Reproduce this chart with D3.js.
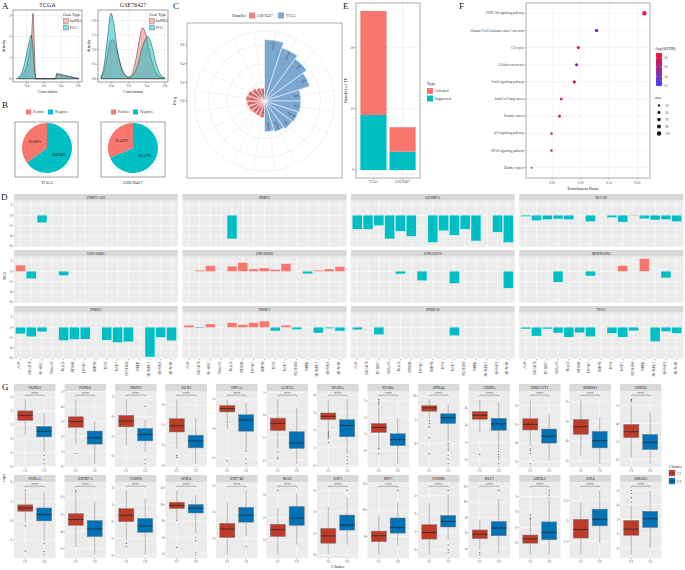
<!DOCTYPE html>
<html><head><meta charset="utf-8">
<script src="https://cdn.jsdelivr.net/npm/d3@7"></script>
<style>html,body{margin:0;padding:0;background:#fff;}svg{display:block;}</style>
</head><body>
<svg id="fig" width="685" height="570"></svg>
<script>
// ===================== DATA =====================
// A: density curves, [correlation, density]
const tcgaLnc = [[-0.58,0],[-0.5,0.15],[-0.42,0.45],[-0.36,0.9],[-0.31,1.5],[-0.28,2.1],[-0.25,3.1],[-0.22,1.6],[-0.2,0.3],[-0.18,0],[0.27,0],[0.3,0.26],[0.34,0.24],[0.45,0.18],[0.6,0.1],[0.72,0.04],[0.81,0]];
const tcgaPcg = [[-0.64,0],[-0.57,0.1],[-0.5,0.35],[-0.43,0.85],[-0.37,1.45],[-0.32,1.9],[-0.29,2.07],[-0.26,1.7],[-0.22,0.6],[-0.19,0.05],[-0.17,0],[0.27,0],[0.3,0.2],[0.34,0.19],[0.45,0.15],[0.6,0.1],[0.72,0.04],[0.81,0]];
const gseLnc = [[-0.62,0.05],[-0.55,0.3],[-0.48,0.8],[-0.42,1.25],[-0.36,1.35],[-0.3,1.15],[-0.22,0.65],[-0.12,0.2],[0,0.05],[0.08,0.2],[0.16,0.7],[0.24,1.4],[0.31,1.75],[0.38,1.5],[0.46,0.9],[0.56,0.35],[0.66,0.1],[0.8,0.02]];
const gsePcg = [[-0.62,0.05],[-0.55,0.5],[-0.48,1.4],[-0.4,2.25],[-0.34,1.9],[-0.27,1.1],[-0.18,0.45],[-0.08,0.12],[0,0.05],[0.1,0.15],[0.2,0.5],[0.3,1.1],[0.42,1.45],[0.5,1.2],[0.6,0.55],[0.7,0.15],[0.8,0.02]];
const corrTicks = [-0.4, 0, 0.4, 0.8];
const tcgaDensTicks = [0, 1, 2, 3];
const gseDensTicks = [0, 0.5, 1, 1.5, 2];

// B: pies
const pieSets = ["TCGA", "GSE76427"];
const piePositive = [35.06, 31.43];
const pieNegative = [64.94, 68.57];

// C: polar bar
const cGenes = ["MYBL2","FOXM1","E2F1","E2F4","MYC","KLF1","ZNF740","MAZ","SMAD3","GRHL2",
                "FOXO3","FOXO1","NR2F2","DLX3","HIF1A","GATA2","PPARA","PPARG","CEBPA","ONECUT1"];
const cSet = ["TCGA","TCGA","TCGA","TCGA","TCGA","TCGA","TCGA","TCGA","TCGA","TCGA",
              "GSE76427","GSE76427","GSE76427","GSE76427","GSE76427","GSE76427","GSE76427","GSE76427","GSE76427","GSE76427"];
const cFreq = [0.66,0.6,0.56,0.51,0.39,0.39,0.38,0.37,0.35,0.33,
               0.18,0.17,0.17,0.18,0.19,0.2,0.19,0.17,0.15,0.14];
const cTicks = [0, 0.2, 0.4, 0.6];

// E: stacked bars
const eSets = ["TCGA", "GSE76427"];
const eActivated = [17, 4];
const eSuppressed = [9, 3];
const eTicks = [0, 10, 20];

// F: KEGG dot plot
const fPath = ["PI3K-Akt signaling pathway","Human T-cell leukemia virus 1 infection","Cell cycle","Cellular senescence","FoxO signaling pathway","Small cell lung cancer","Prostate cancer","p53 signaling pathway","PPAR signaling pathway","Bladder cancer"];
const fRatio = [0.212,0.128,0.096,0.093,0.089,0.066,0.063,0.049,0.049,0.014];
const fLogFDR = [17.8,14.3,18.6,14.6,17.0,17.3,16.0,17.2,17.0,12.2];
const fSize = [110,75,60,60,55,45,45,35,35,20];
const fTicks = [0.05,0.10,0.15,0.20];
const fColorTicks = [18,16,14,12];
const fSizeTicks = [30,50,70,90,110];

// D: RCI facets
const dCells = ["A549","GM12878","H1-hESC","HeLa-S3","HepG2","HT1080","HUVEC","IMR-90","K562","MCF-7","NCI-H460","NHEK","SK-MEL-5","SK-N-DZ","SK-N-SH"];
const dGenes = ["ZNRF3-AS1","ZNRF3","GUSBP11","RCC1B","LINC00491","LINC00926","LINC01070","MIR99AHG","SNHG1","SNHG7","SNHG16","TUG1"];
const dRCI = [
 [null,null,-1.4,null,null,null,null,null,null,null,null,null,null,null,null],
 [null,null,null,null,-4.6,null,null,null,null,null,null,null,null,null,null],
 [-2.7,-2.7,-2.0,-4.6,-3.1,-4.1,null,-5.3,-3.0,-3.9,-2.7,-5.0,null,-3.3,-5.3],
 [-0.2,-1.0,-0.8,-0.7,-0.8,null,-1.2,null,-0.4,-1.3,0.1,-0.65,-0.9,-0.8,-1.2],
 [1.2,-1.4,null,null,-0.8,null,null,null,null,null,null,null,null,null,null],
 [null,0.2,1.1,null,1.0,1.7,0.45,0.65,0.35,1.5,null,-0.45,0.2,0.45,0.9],
 [null,null,null,null,-0.5,null,-1.8,null,null,-2.35,null,null,null,null,-3.3],
 [null,null,null,-2.1,null,null,-0.9,null,null,1.1,null,2.5,null,-1.25,null],
 [-1.25,-1.8,-0.85,null,-2.55,-2.35,-2.3,null,-2.5,-2.95,-2.8,null,-5.8,-1.95,-2.6],
 [0.4,-0.13,0.65,null,0.9,0.5,0.9,1.2,-0.7,0.4,-0.4,null,-1.1,-0.2,-0.7],
 [-0.45,null,-1.4,null,null,null,null,null,null,-1.6,null,null,null,null,null],
 [-0.3,-1.7,-0.3,-1.1,-1.9,-1.05,-1.8,null,-1.15,-1.9,-0.65,null,-2.75,-0.8,-1.15]
];
const dTicks = [-6,-4,-2,0,2];

// G: boxplots [lower whisker, Q1, median, Q3, upper whisker]
const gGenes = ["FOXO3","FOXO1","NR2F2","DLX3","HIF1A","GATA2","PPARA","PPARG","RNF44","CEBPA","ONECUT1","ROBSS1","CREB3",
                "FOXA1","ZBTB7A","CEBPB","RNF4","ZNF740","MAZ","E2F1","MYC","FOXM1","KLF1","GRHL2","E2F4","SMAD3"];
const gC1 = [[0.3,1.33,1.7,2.02,2.85],[1.46,2.62,3.0,3.32,4.48],[-1.44,-0.52,-0.23,0.06,0.87],[-2.21,-1.34,-1.03,-0.68,0.28],[1.16,2.8,3.37,3.9,4.94],[-1.47,-0.68,-0.36,-0.13,0.7],[1.44,2.6,2.79,2.98,3.75],[0.2,1.1,1.4,1.64,2.7],[5.2,6.8,7.5,7.96,9.3],[3.13,4.68,5.14,5.58,7.0],[-4.17,-3.3,-3.0,-2.7,-1.67],[-4.74,-3.65,-3.26,-2.89,-1.87],[-5.9,-4.79,-4.46,-4.05,-2.95],
             [-0.08,0.5,0.67,0.83,1.5],[-4.73,-3.64,-3.3,-2.96,-1.82],[-1.08,0,0.39,0.78,1.86],[8.27,9.5,9.88,10.27,11.7],[0.39,1.04,1.36,1.58,2.36],[0.35,1.16,1.46,1.7,2.4],[0,0.54,0.88,1.23,2.23],[6.6,7.6,8.05,8.4,9.6],[-0.27,0.6,0.96,1.4,2.6],[3.85,5.27,5.85,6.4,7.7],[-2.77,-2.02,-1.74,-1.49,-0.32],[1.17,1.58,1.79,2.04,2.46],[0.56,1.9,2.33,2.93,4.0]];
const gC2 = [[-0.95,0.14,0.55,0.9,1.86],[0.19,1.5,1.92,2.37,3.04],[-1.8,-1.23,-0.91,-0.6,-0.18],[-2.92,-2.13,-1.78,-1.5,-0.63],[-3.5,-0.47,1.45,2.33,4.36],[-2.15,-1.47,-1.23,-0.73,0.32],[0.67,1.63,2.27,2.6,3.75],[-0.8,0.3,0.66,1.02,2.0],[0.5,4.2,5.4,6.26,8.3],[1.08,3.4,4.14,4.8,6.65],[-4.92,-4.0,-3.63,-3.25,-2.47],[-5.15,-4.34,-3.98,-3.5,-2.8],[-6.25,-5.46,-5.05,-4.61,-3.39],
             [-1.08,0,0.33,0.67,1.5],[-5.36,-4.3,-3.85,-3.36,-2.27],[-1.96,-0.63,-0.25,0.2,1.37],[6.5,8.96,9.54,10,11.15],[1.1,1.62,1.88,2.18,2.82],[0.8,1.65,1.97,2.49,3.07],[0.46,1.15,1.38,1.85,2.69],[7.3,8.25,8.66,9.4,10.6],[0.55,1.27,1.58,1.91,3.1],[3.27,5.65,6.65,7.5,10.4],[-2.77,-1.8,-1.32,-0.64,0.96],[1.46,1.88,2.04,2.29,2.75],[1.0,2.44,3.04,3.56,5.0]];
const gOut1 = [[],[0.87],[],[-2.5,-2.6],[1.05,0.58,0.12,-5.5],[-1.63,-1.86,-1.94],[1.9,1.8,1.7,1.6,1.3],[2.8,2.9,3.0,3.1,0.1,-0.2],[4.8,4.2,3.5,1.2,-2.2],[0.6],[-4.3,-4.4,-4.55,-5.1],[],[-2.8,-2.7,-2.65],
               [1.58,-0.25,-1.55],[-1.7,-1.6,-4.8],[-1.27,-1.47],[8.1,4.8],[],[3.2],[],[],[],[3.5,3.2],[-0.2,-0.43],[],[4.2,4.5,4.8,5.0]];
const gOut2 = [[-1.2,-1.5,-1.8],[],[0.52,-2.16,-2.39],[],[-3.8,-5.2,-6.0],[],[0.5,0.3,0.1],[],[0,-0.5,-1,-1.5,-2.5,-3.3,-4.3],[0.9,0.6,0.3,0,-0.5],[],[],[],
               [-1.17,-1.58,-1.75],[],[],[6,5.6,4.2,3.9],[0.71],[],[3.0],[11.5],[3.3,0.27,0,-0.13],[11.5],[1.1,1.25,1.4],[],[]];
const gClusters = ["C1","C2"];

// ===================== DRAW =====================
const svg = d3.select("#fig").style("font-family","'Liberation Serif','Times New Roman',serif");
const PINK="#F8766D", CYAN="#00BFC4", RED1="#BC3C29", BLUE2="#0072B5";
function T(x,y,s,fs,o={}){
  const t=svg.append("text").attr("x",x).attr("y",y).text(s).attr("font-size",fs)
    .attr("fill",o.fill||"#222").attr("text-anchor",o.a||"start");
  if(o.rot!==undefined) t.attr("transform",`rotate(${o.rot},${x},${y})`);
  return t;
}
function L(x1,y1,x2,y2,c,w){svg.append("line").attr("x1",x1).attr("y1",y1).attr("x2",x2).attr("y2",y2).attr("stroke",c).attr("stroke-width",w);}
function R(x,y,w,h,f,s,sw){return svg.append("rect").attr("x",x).attr("y",y).attr("width",w).attr("height",h).attr("fill",f||"none").attr("stroke",s||"none").attr("stroke-width",sw||0);}

// panel letters
[["A",2,9],["B",2,108],["C",173,9],["E",343,9],["F",459,9],["D",1,200],["G",2,390]].forEach(d=>T(d[1],d[2],d[0],9,{fill:"#111"}));

// ---------- A ----------
function densityPanel(box, curves, yTicks, yFmt, title){
  const [x0,y0,x1,y1]=box;
  const ax=curves.flatMap(c=>c.data.map(d=>d[0]));
  const xmin=d3.min(ax), xmax=d3.max(ax), xr=xmax-xmin;
  const x=d3.scaleLinear().domain([xmin-0.05*xr,xmax+0.05*xr]).range([x0,x1]);
  const ym=d3.max(curves.flatMap(c=>c.data.map(d=>d[1])));
  const y=d3.scaleLinear().domain([-0.05*ym,1.05*ym]).range([y1,y0]);
  R(x0,y0,x1-x0,y1-y0,"#fff");
  const yStep=yTicks[1]-yTicks[0];
  yTicks.forEach(t=>{ const m=t+yStep/2; if(y(m)>y0) L(x0,y(m),x1,y(m),"#F2F2F2",0.3); L(x0,y(t),x1,y(t),"#E5E5E5",0.5);
    L(x0-1.5,y(t),x0,y(t),"#333",0.4); T(x0-2,y(t)+1.2,yFmt(t),3.4,{a:"end",fill:"#444"});});
  corrTicks.forEach(t=>{ const m=t+0.2; if(x(m)<x1) L(x(m),y0,x(m),y1,"#F2F2F2",0.3); L(x(t),y0,x(t),y1,"#E5E5E5",0.5);
    L(x(t),y1,x(t),y1+1.5,"#333",0.4); T(x(t),y1+4.8,d3.format(".1f")(t).replace("−","-"),3.4,{a:"middle",fill:"#444"});});
  curves.forEach(c=>{
    svg.append("path").datum(c.data).attr("d",d3.area().x(d=>x(d[0])).y0(y(0)).y1(d=>y(d[1])).curve(d3.curveMonotoneX))
      .attr("fill",c.color).attr("fill-opacity",0.5).attr("stroke","#222").attr("stroke-width",0.45);
  });
  R(x0,y0,x1-x0,y1-y0,"none","#444",0.5);
  T((x0+x1)/2,7,title,6,{a:"middle"});
  T((x0+x1)/2,92.5,"Correlation",4.4,{a:"middle"});
  T(x0-8,(y0+y1)/2,"density",4.4,{a:"middle",rot:-90});
  // legend
  const lx=x1-19;
  T(lx,16,"Gene Type",4,{});
  [["lncRNA",PINK],["PCG",CYAN]].forEach((d,i)=>{
    R(lx+0.5,18.5+i*6.5,5,5,d[1],"#333",0.3).attr("fill-opacity",0.5);
    T(lx+7,22.3+i*6.5,d[0],3.5,{});
  });
}
densityPanel([13,10,82,82],[{data:tcgaLnc,color:PINK},{data:tcgaPcg,color:CYAN}],tcgaDensTicks,d3.format("d"),"TCGA");
densityPanel([98,10,168,82],[{data:gseLnc,color:PINK},{data:gsePcg,color:CYAN}],gseDensTicks,d3.format(".1f"),"GSE76427");

// ---------- B ----------
pieSets.forEach((name,k)=>{
  const cx=[47,133][k], cy=148, bx=[15,101][k], r=25;
  const lx=[26,111][k];
  R(lx,109.5,5,5,PINK); T(lx+7,113.4,"Positive",3.6,{fill:"#333"});
  R(lx+22,109.5,5,5,CYAN); T(lx+29,113.4,"Negative",3.6,{fill:"#333"});
  R(bx,122,[63,64][k],55,"#fff","#8c8c8c",0.8);
  svg.append("circle").attr("cx",cx).attr("cy",cy).attr("r",27.5).attr("fill","none").attr("stroke","#EDEDED").attr("stroke-width",0.5);
  const vals=[{v:pieNegative[k],c:CYAN},{v:piePositive[k],c:PINK}];
  const arcs=d3.pie().sort(null).value(d=>d.v)(vals);
  const arc=d3.arc().innerRadius(0).outerRadius(r);
  const lab=d3.arc().innerRadius(r*0.55).outerRadius(r*0.55);
  const g=svg.append("g").attr("transform",`translate(${cx},${cy})`);
  g.selectAll("path").data(arcs).join("path").attr("d",arc).attr("fill",d=>d.data.c);
  g.selectAll("text").data(arcs).join("text").attr("transform",d=>`translate(${lab.centroid(d)})`).attr("dy",1.4)
    .attr("text-anchor","middle").attr("font-size",4.2).attr("fill","#111").text(d=>d3.format(".2f")(d.data.v)+"%");
  T(cx,184,name,4.4,{a:"middle"});
});

// ---------- C ----------
(function(){
  const cx=264.5, cy=101;
  const rS=d3.scaleLinear().domain([0,0.6]).range([0,56]);
  const n=cGenes.length, step=2*Math.PI/n;
  T(232,16.5,"DataSet",4.4,{});
  R(249,12.5,6,6,"#F08080"); T(257,17.2,"GSE76427",3.6,{fill:"#333"});
  R(278,12.5,6,6,"#7BA7D2"); T(286,17.2,"TCGA",3.6,{fill:"#333"});
  R(187,23,155,155,"#fff","#9a9a9a",0.8);
  [0.2,0.4,0.6,0.75].forEach(v=>svg.append("circle").attr("cx",cx).attr("cy",cy).attr("r",rS(v)).attr("fill","none").attr("stroke","#E6E6E6").attr("stroke-width",0.6));
  for(let i=0;i<n;i++){const a=(i+0.5)*step; L(cx,cy,cx+rS(0.75)*Math.sin(a),cy-rS(0.75)*Math.cos(a),"#E6E6E6",0.5);}
  const arc=d3.arc().innerRadius(0);
  const g=svg.append("g").attr("transform",`translate(${cx},${cy})`);
  cFreq.forEach((v,i)=>{
    g.append("path").attr("d",arc({outerRadius:rS(v),startAngle:i*step,endAngle:(i+1)*step}))
      .attr("fill",cSet[i]==="TCGA"?"#7BA7D2":"#F08080").attr("stroke","#fff").attr("stroke-width",0.5);
  });
  cFreq.forEach((v,i)=>{
    const a=(i+0.5)*step, rr=rS(v)-0.8, s=Math.sin(a);
    const deg=a*180/Math.PI;
    const right=deg<180;
    const tx=rr*s, ty=-rr*Math.cos(a);
    const rot=right?deg-90:deg+90;
    g.append("text").attr("x",tx).attr("y",ty).attr("dy",0.9).attr("font-size",2.6).attr("fill","#333")
      .attr("text-anchor",right?"end":"start")
      .attr("transform",`rotate(${rot},${tx},${ty})`).text(cGenes[i]);
  });
  cTicks.forEach(t=>{L(185,cy-rS(t),187,cy-rS(t),"#333",0.4); T(184.5,cy-rS(t)+1.2,d3.format(".1f")(t),3.4,{a:"end",fill:"#444"});});
  T(176,cy,"Freq",4.4,{a:"middle",rot:-90});
})();

// ---------- E ----------
(function(){
  const x0=356,x1=420,y0=3,y1=178;
  const tot=eActivated.map((v,i)=>v+eSuppressed[i]);
  const mx=d3.max(tot);
  const y=d3.scaleLinear().domain([-0.05*mx,1.05*mx]).range([y1,y0]);
  const x=d3.scaleLinear().domain([-0.6,eSets.length-0.4]).range([x0,x1]);
  R(x0,y0,x1-x0,y1-y0,"#fff");
  [5,15,25].forEach(t=>L(x0,y(t),x1,y(t),"#F2F2F2",0.3));
  eTicks.forEach(t=>{L(x0,y(t),x1,y(t),"#E5E5E5",0.5); L(x0-1.5,y(t),x0,y(t),"#333",0.4); T(x0-2,y(t)+1.2,t,3.4,{a:"end",fill:"#444"});});
  eSets.forEach((s,i)=>{L(x(i),y0,x(i),y1,"#E5E5E5",0.5);
    R(x(i)-0.45*(x(1)-x(0)),y(eSuppressed[i]),0.9*(x(1)-x(0)),y(0)-y(eSuppressed[i]),CYAN);
    R(x(i)-0.45*(x(1)-x(0)),y(tot[i]),0.9*(x(1)-x(0)),y(eSuppressed[i])-y(tot[i]),PINK);
    L(x(i),y1,x(i),y1+1.5,"#333",0.4); T(x(i),y1+5,s,3.4,{a:"middle",fill:"#444"});});
  R(x0,y0,x1-x0,y1-y0,"none","#9a9a9a",0.8);
  T(347,(y0+y1)/2,"Number of TF",4.4,{a:"middle",rot:-90});
  T(427,85,"Type",4.4,{});
  R(427,88,6,6,PINK); T(435,92.4,"Activated",3.5,{fill:"#333"});
  R(427,95.5,6,6,CYAN); T(435,99.9,"Suppressed",3.5,{fill:"#333"});
})();

// ---------- F ----------
(function(){
  const x0=526,x1=650,y0=3,y1=178;
  const mn=d3.min(fRatio), mxv=d3.max(fRatio), rg=mxv-mn;
  const x=d3.scaleLinear().domain([mn-0.05*rg,mxv+0.05*rg]).range([x0,x1]);
  const y=d3.scaleLinear().domain([-0.6,fPath.length-0.4]).range([y0,y1]);
  const col=d3.scaleLinear().domain([12,19]).range(["#4343FF","#FF1030"]);
  const sz=d3.scaleSqrt().domain([0,110]).range([0,2.2]);
  R(x0,y0,x1-x0,y1-y0,"#fff");
  fTicks.forEach(t=>{L(x(t),y0,x(t),y1,"#E8E8E8",0.5); L(x(t),y1,x(t),y1+1.5,"#333",0.4); T(x(t),y1+5.5,d3.format(".2f")(t),3.4,{a:"middle",fill:"#444"});});
  fPath.forEach((p,i)=>{L(x0,y(i),x1,y(i),"#E8E8E8",0.5); L(x0-1.5,y(i),x0,y(i),"#333",0.4); T(x0-2,y(i)+1.1,p,3.3,{a:"end",fill:"#444"});});
  fPath.forEach((p,i)=>svg.append("circle").attr("cx",x(fRatio[i])).attr("cy",y(i)).attr("r",sz(fSize[i])).attr("fill",col(fLogFDR[i])));
  R(x0,y0,x1-x0,y1-y0,"none","#9a9a9a",0.8);
  T(583,189.5,"Enrichment Ratio",4.4,{a:"middle"});
  T(655,50,"-log10(FDR)",4,{});
  const gid="gradF";
  const grad=svg.append("defs").append("linearGradient").attr("id",gid).attr("x1",0).attr("x2",0).attr("y1",1).attr("y2",0);
  d3.range(0,1.01,0.1).forEach(t=>grad.append("stop").attr("offset",t).attr("stop-color",col(12+t*7)));
  const gy=d3.scaleLinear().domain([12,19]).range([86,53]);
  R(656,53,6,33,`url(#${gid})`);
  fColorTicks.forEach(t=>{L(656,gy(t),657.3,gy(t),"#fff",0.4);L(660.7,gy(t),662,gy(t),"#fff",0.4); T(664,gy(t)+1.2,t,3.4,{fill:"#444"});});
  T(655,99,"size",4,{});
  fSizeTicks.forEach((s,i)=>{svg.append("circle").attr("cx",659).attr("cy",105.5+i*7).attr("r",sz(s)).attr("fill","#111");
    T(665,106.7+i*7,s,3.4,{fill:"#444"});});
})();

// ---------- D ----------
(function(){
  const all=dRCI.flat().filter(v=>v!==null);
  const mn=d3.min(all), mx=d3.max(all), rg=mx-mn;
  const dom=[mn-0.05*rg,mx+0.05*rg];
  dGenes.forEach((gene,k)=>{
    const col=k%4,row=Math.floor(k/4);
    const px=14+col*168.4, pw=164, st=194+row*56, py=st+6.5, ph=46.5;
    const x=d3.scaleLinear().domain([-0.6,dCells.length-0.4]).range([px,px+pw]);
    const y=d3.scaleLinear().domain(dom).range([py+ph,py]);
    R(px,py,pw,ph,"#EBEBEB");
    [-5,-3,-1,1].forEach(t=>L(px,y(t),px+pw,y(t),"#F7F7F7",0.3));
    dTicks.forEach(t=>L(px,y(t),px+pw,y(t),"#fff",0.55));
    dCells.forEach((c,i)=>L(x(i),py,x(i),py+ph,"#fff",0.55));
    R(px,st,pw,6.5,"#D9D9D9");
    T(px+pw/2,st+4.6,gene,3.6,{a:"middle",fill:"#222"});
    dRCI[k].forEach((v,i)=>{ if(v===null) return;
      const bw=x(0.45)-x(-0.45);
      R(x(i)-bw/2,y(Math.max(v,0)),bw,Math.abs(y(v)-y(0)),v>=0?PINK:CYAN,"#fff",0.15);
    });
    if(col===0) dTicks.forEach(t=>{L(px-1.3,y(t),px,y(t),"#333",0.4); T(px-2,y(t)+1.2,t,3.4,{a:"end",fill:"#444"});});
    if(row===2) dCells.forEach((c,i)=>{L(x(i),py+ph,x(i),py+ph+1.3,"#333",0.4); T(x(i),py+ph+2.5,c,3.3,{a:"end",fill:"#444",rot:-90});});
  });
  T(6,276,"RCI",4.4,{a:"middle",rot:-90});
})();

// ---------- G ----------
(function(){
  gGenes.forEach((gene,k)=>{
    const row=Math.floor(k/13), col=k%13;
    const px=14+col*50.5, pw=41.5, st=row?475:384, py=st+7, ph=76;
    const vals=[...gC1[k],...gC2[k],...gOut1[k],...gOut2[k]];
    const lo=d3.min(vals), hi=d3.max(vals), r=hi-lo;
    const y=d3.scaleLinear().domain([lo-0.05*r,hi+0.13*r]).range([py+ph,py]);
    const x=d3.scaleLinear().domain([-0.6,1.6]).range([px,px+pw]);
    R(px,py,pw,ph,"#EBEBEB");
    const ticks=y.ticks(4); const ts=ticks[1]-ticks[0];
    ticks.forEach(t=>{const m=t+ts/2; if(y(m)>py) L(px,y(m),px+pw,y(m),"#F5F5F5",0.3);});
    if(y(ticks[0]-ts/2)<py+ph) L(px,y(ticks[0]-ts/2),px+pw,y(ticks[0]-ts/2),"#F5F5F5",0.3);
    ticks.forEach(t=>{L(px,y(t),px+pw,y(t),"#fff",0.55); L(px-1.3,y(t),px,y(t),"#333",0.4);
      T(px-1.8,y(t)+1.2,d3.format("~g")(t).replace("−","-"),3.3,{a:"end",fill:"#444"});});
    gClusters.forEach((c,i)=>{L(x(i),py,x(i),py+ph,"#fff",0.55); L(x(i),py+ph,x(i),py+ph+1.3,"#333",0.4);
      T(x(i),py+ph+4.8,c,3.4,{a:"middle",fill:"#444"});});
    R(px,st,pw,7,"#D9D9D9");
    T(px+pw/2,st+5,gene,3.8,{a:"middle",fill:"#222"});
    [[gC1[k],gOut1[k],RED1],[gC2[k],gOut2[k],BLUE2]].forEach((b,i)=>{
      const s=b[0], bw=x(0.4)-x(-0.4);
      L(x(i),y(s[0]),x(i),y(s[1]),"#7a7a7a",0.5);
      L(x(i),y(s[3]),x(i),y(s[4]),"#7a7a7a",0.5);
      R(x(i)-bw/2,y(s[3]),bw,y(s[1])-y(s[3]),b[2],"#808080",0.5);
      L(x(i)-bw/2,y(s[2]),x(i)+bw/2,y(s[2]),"#2a2a2a",0.8);
      b[1].forEach(o=>svg.append("circle").attr("cx",x(i)).attr("cy",y(o)).attr("r",0.55).attr("fill","#333"));
    });
    const by=y(hi+0.065*r);
    L(x(0),by,x(1),by,"#555",0.4); L(x(0),by,x(0),by+1.3,"#555",0.4); L(x(1),by,x(1),by+1.3,"#555",0.4);
    T((x(0)+x(1))/2,by-0.6,"****",3.4,{a:"middle",fill:"#333"});
  });
  T(5,478,"expr",4.4,{a:"middle",rot:-90});
  T(338,568,"Cluster",4.6,{a:"middle"});
  T(669,467.5,"Cluster",4.4,{});
  [[RED1,"C1"],[BLUE2,"C2"]].forEach((d,i)=>{
    R(669,470+i*8,6,6,d[0],"#808080",0.4); L(669,473+i*8,675,473+i*8,"#222",0.5);
    T(677,474.5+i*8,d[1],3.6,{fill:"#333"});
  });
})();
</script></body></html>
